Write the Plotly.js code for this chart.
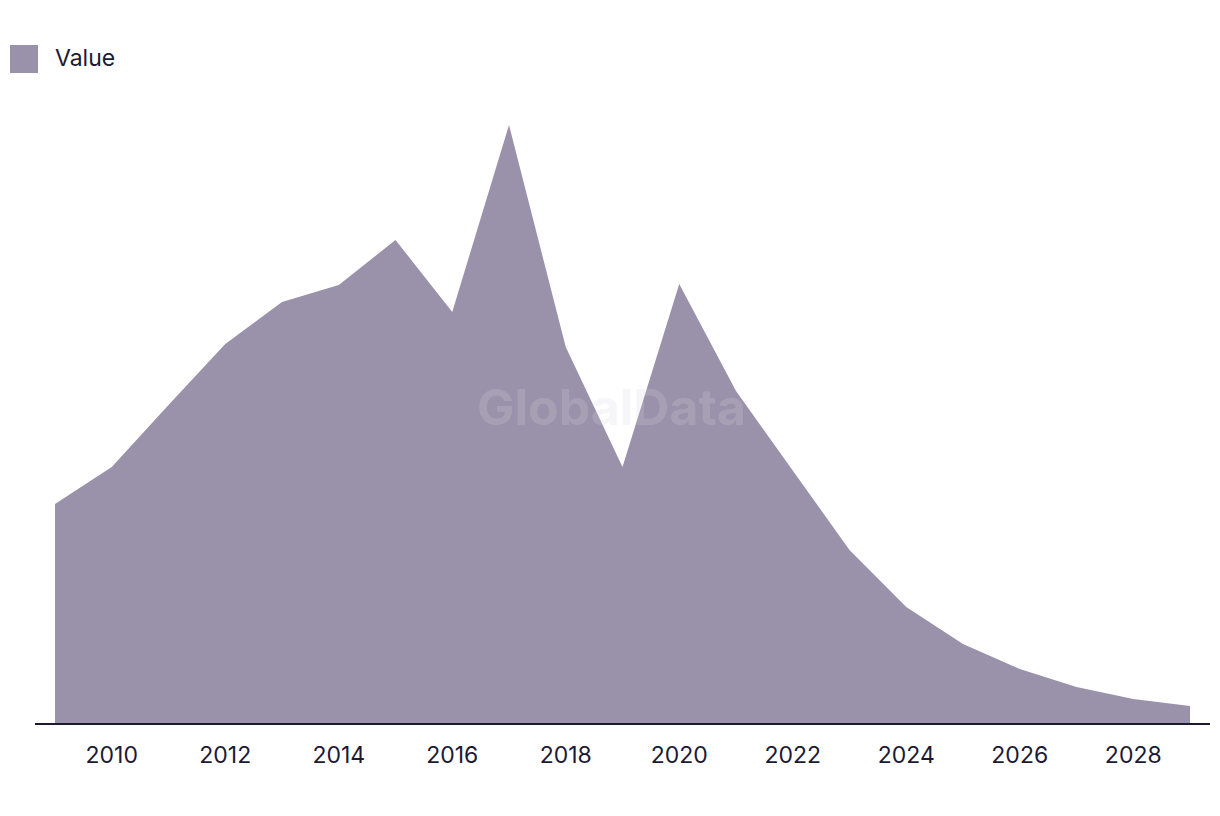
<!DOCTYPE html>
<html>
<head>
<meta charset="utf-8">
<script src="https://cdn.plot.ly/plotly-3.0.1.min.js"></script>
<style>html,body{margin:0;padding:0;background:#fff;}#chart{width:1220px;height:816px;}</style>
</head>
<body>
<div id="chart"></div>
<script>
const years = [2009,2010,2011,2012,2013,2014,2015,2016,2017,2018,2019,2020,2021,2022,2023,2024,2025,2026,2027,2028,2029];
const values = [219,256,318,379,421,438,483,411,598,376,256,439,332,252,173,116,79,54,36,24,17];
const tickYears = [2010,2012,2014,2016,2018,2020,2022,2024,2026,2028];
const seriesName = 'Value';

const fillColor = '#9a91aa';
const textColor = '#1c1a33';

const trace = {
  x: years, y: values, type: 'scatter', mode: 'lines',
  fill: 'tozeroy', fillcolor: fillColor,
  line: {width: 0, color: fillColor},
  name: seriesName, showlegend: false, hoverinfo: 'x+y'
};

const layout = {
  width: 1220, height: 816,
  margin: {l: 35, r: 10, t: 100, b: 93},
  paper_bgcolor: '#fff', plot_bgcolor: '#fff',
  font: {family: 'Inter, "Liberation Sans", sans-serif', color: textColor, size: 22},
  showlegend: false,
  xaxis: {
    range: [2009 - 20/56.75, 2029 + 20/56.75],
    tickvals: tickYears, ticktext: tickYears.map(String),
    showgrid: false, zeroline: false,
    showline: true, linecolor: textColor, linewidth: 2,
    ticks: 'outside', ticklen: 10, tickcolor: 'rgba(0,0,0,0)',
    tickfont: {size: 23, color: textColor}
  },
  yaxis: {
    range: [0, 623], visible: false, fixedrange: true
  },
  shapes: [{
    type: 'rect', xref: 'paper', yref: 'paper',
    x0: (10-35)/1175, x1: (38-35)/1175, y0: (723-73)/623, y1: (723-45)/623,
    fillcolor: fillColor, line: {width: 0}
  }],
  annotations: [
    {text: seriesName, xref: 'paper', yref: 'paper', x: (53-35)/1175, y: (723-58)/623,
     xanchor: 'left', yanchor: 'middle', showarrow: false, font: {size: 23, color: textColor}},
    {text: '<b>GlobalData</b>', xref: 'paper', yref: 'paper', x: (611-35)/1175, y: (723-407)/623,
     xanchor: 'center', yanchor: 'middle', showarrow: false,
     font: {size: 50, color: 'rgba(215,212,222,0.22)', family: 'Inter, "Liberation Sans", sans-serif'}}
  ]
};

Plotly.newPlot('chart', [trace], layout, {displayModeBar: false, staticPlot: true});
</script>
</body>
</html>
